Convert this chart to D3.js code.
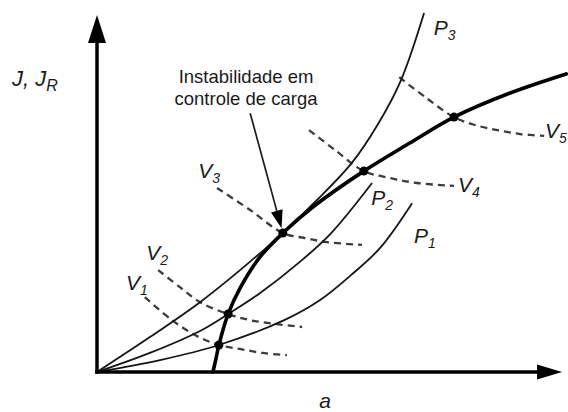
<!DOCTYPE html>
<html>
<head>
<meta charset="utf-8">
<script src="https://cdn.jsdelivr.net/npm/d3@7"></script>
<style>
  html, body { margin: 0; padding: 0; background: #fff; }
  svg { display: block; }
  text { font-family: "Liberation Sans", Arial, Helvetica, sans-serif; fill: #1a1a1a; }
</style>
</head>
<body>
<svg id="chart" width="568" height="412"></svg>
<script>
// Crack driving force (J) and resistance (J_R) versus crack length a, arbitrary units.
// Each curve is a list of [a, J] pairs.

// Driving force at constant load
const curveP1 = [[0, 0], [1.37, 0.33], [2.65, 0.75], [4.07, 1.44], [4.85, 2.00], [5.52, 2.69], [6.15, 3.44], [6.85, 4.69]];
const curveP2 = [[0, 0], [1.15, 0.53], [2.24, 1.14], [2.85, 1.61], [3.54, 2.19], [4.41, 3.06], [5.07, 3.83], [5.98, 5.25]];
const curveP3 = [[0, 0], [1.15, 0.97], [2.24, 1.94], [3.11, 2.83], [4.04, 3.86], [4.76, 4.75], [5.54, 5.81], [6.11, 6.89], [6.61, 8.11], [7.11, 9.97]];

// Driving force at constant displacement
const curveV1 = [[1.04, 2.08], [1.63, 1.44], [2.17, 1.00], [2.65, 0.75], [3.11, 0.64], [3.59, 0.53], [4.13, 0.47]];
const curveV2 = [[1.33, 2.83], [1.80, 2.36], [2.24, 1.94], [2.85, 1.61], [3.33, 1.44], [3.91, 1.33], [4.46, 1.25]];
const curveV3 = [[2.61, 5.11], [3.33, 4.50], [4.04, 3.86], [4.52, 3.72], [5.00, 3.61], [5.76, 3.53]];
const curveV4 = [[4.61, 6.72], [5.17, 6.17], [5.80, 5.58], [6.37, 5.39], [6.96, 5.25], [7.76, 5.17]];
const curveV5 = [[6.57, 8.19], [7.13, 7.64], [7.76, 7.08], [8.22, 6.86], [8.70, 6.72], [9.20, 6.61], [9.72, 6.56]];

// Resistance curve J_R
const curveR = [[2.52, 0], [2.59, 0.39], [2.65, 0.75], [2.85, 1.61], [3.11, 2.33], [3.54, 3.19], [4.04, 3.86],
                [4.72, 4.61], [5.80, 5.58], [6.80, 6.36], [7.76, 7.08], [8.98, 7.75], [10.20, 8.28]];

// Points where the driving force meets J_R
const equilibriumPoints = [[2.65, 0.75], [2.85, 1.61], [4.04, 3.86], [5.80, 5.58], [7.76, 7.08]];
const instabilityPoint = [4.04, 3.86];

// Curve labels: symbol, subscript, anchor [a, J]
const loadLabels = [["P", "1", [6.89, 3.58]], ["P", "2", [5.96, 4.64]], ["P", "3", [7.32, 9.36]]];
const dispLabels = [["V", "1", [0.63, 2.28]], ["V", "2", [1.07, 3.11]], ["V", "3", [2.20, 5.39]],
                    ["V", "4", [7.85, 5.00]], ["V", "5", [9.74, 6.50]]];
const noteLines = ["Instabilidade em", "controle de carga"];
const noteStart = [3.33, 7.19];

const svg = d3.select("#chart");
const x = d3.scaleLinear().domain([0, 10]).range([97, 557]);
const y = d3.scaleLinear().domain([0, 10]).range([372, 12]);

const line = d3.line()
  .x(d => x(d[0]))
  .y(d => y(d[1]))
  .curve(d3.curveCatmullRom.alpha(0.5));

// dashed constant-displacement curves
svg.append("g")
  .selectAll("path")
  .data([curveV1, curveV2, curveV3, curveV4, curveV5])
  .join("path")
  .attr("d", line)
  .attr("fill", "none")
  .attr("stroke", "#3c3c3c")
  .attr("stroke-width", 2.3)
  .attr("stroke-dasharray", "7 5");

// constant-load curves
svg.append("g")
  .selectAll("path")
  .data([curveP1, curveP2, curveP3])
  .join("path")
  .attr("d", line)
  .attr("fill", "none")
  .attr("stroke", "#151515")
  .attr("stroke-width", 1.8);

// resistance curve
svg.append("path")
  .attr("d", line(curveR))
  .attr("fill", "none")
  .attr("stroke", "#000")
  .attr("stroke-width", 3.6)
  .attr("stroke-linecap", "round");

svg.append("g")
  .selectAll("circle")
  .data(equilibriumPoints)
  .join("circle")
  .attr("cx", d => x(d[0]))
  .attr("cy", d => y(d[1]))
  .attr("r", 4.5)
  .attr("fill", "#000");

// axes with arrow heads
const ox = x(0), oy = y(0);
const yTip = y(9.92), xTip = x(10.11);
svg.append("line")
  .attr("x1", ox).attr("y1", oy + 1.75).attr("x2", ox).attr("y2", yTip + 20)
  .attr("stroke", "#000").attr("stroke-width", 3.5);
svg.append("line")
  .attr("x1", ox - 1.75).attr("y1", oy).attr("x2", xTip - 18).attr("y2", oy)
  .attr("stroke", "#000").attr("stroke-width", 3.5);
svg.append("path")
  .attr("d", `M${ox},${yTip}L${ox + 9},${yTip + 28}L${ox - 9},${yTip + 28}Z`)
  .attr("fill", "#000");
svg.append("path")
  .attr("d", `M${xTip},${oy}L${xTip - 25},${oy - 7.5}L${xTip - 25},${oy + 7.5}Z`)
  .attr("fill", "#000");

// axis titles
const jTitle = svg.append("text").attr("x", 12).attr("y", 86)
  .attr("font-size", 22).attr("font-style", "italic");
jTitle.append("tspan").text("J, J");
jTitle.append("tspan").attr("dy", 5).attr("font-size", 16).text("R");

svg.append("text").attr("x", 325).attr("y", 408)
  .attr("text-anchor", "middle").attr("font-size", 21).attr("font-style", "italic")
  .text("a");

// curve labels
function addLabel([sym, sub, pos]) {
  const t = svg.append("text")
    .attr("x", x(pos[0])).attr("y", y(pos[1]))
    .attr("font-size", 21).attr("font-style", "italic");
  t.append("tspan").text(sym);
  t.append("tspan").attr("dy", 5).attr("font-size", 14).text(sub);
}
loadLabels.forEach(addLabel);
dispLabels.forEach(addLabel);

// note with arrow pointing at the load-control instability point
noteLines.forEach((s, i) => {
  svg.append("text")
    .attr("x", 246).attr("y", 83 + i * 22)
    .attr("text-anchor", "middle").attr("font-size", 18.5)
    .text(s);
});

const sx = x(noteStart[0]), sy = y(noteStart[1]);
const px = x(instabilityPoint[0]), py = y(instabilityPoint[1]);
const len = Math.hypot(px - sx, py - sy);
const ux = (px - sx) / len, uy = (py - sy) / len;
const tipX = px - ux * 5, tipY = py - uy * 5;
const headLen = 18, headHalf = 6;
const bx = tipX - ux * headLen, by = tipY - uy * headLen;
svg.append("line")
  .attr("x1", sx).attr("y1", sy).attr("x2", bx).attr("y2", by)
  .attr("stroke", "#1a1a1a").attr("stroke-width", 1.7);
svg.append("path")
  .attr("d", `M${tipX},${tipY}L${bx - uy * headHalf},${by + ux * headHalf}L${bx + uy * headHalf},${by - ux * headHalf}Z`)
  .attr("fill", "#000");
</script>
</body>
</html>
